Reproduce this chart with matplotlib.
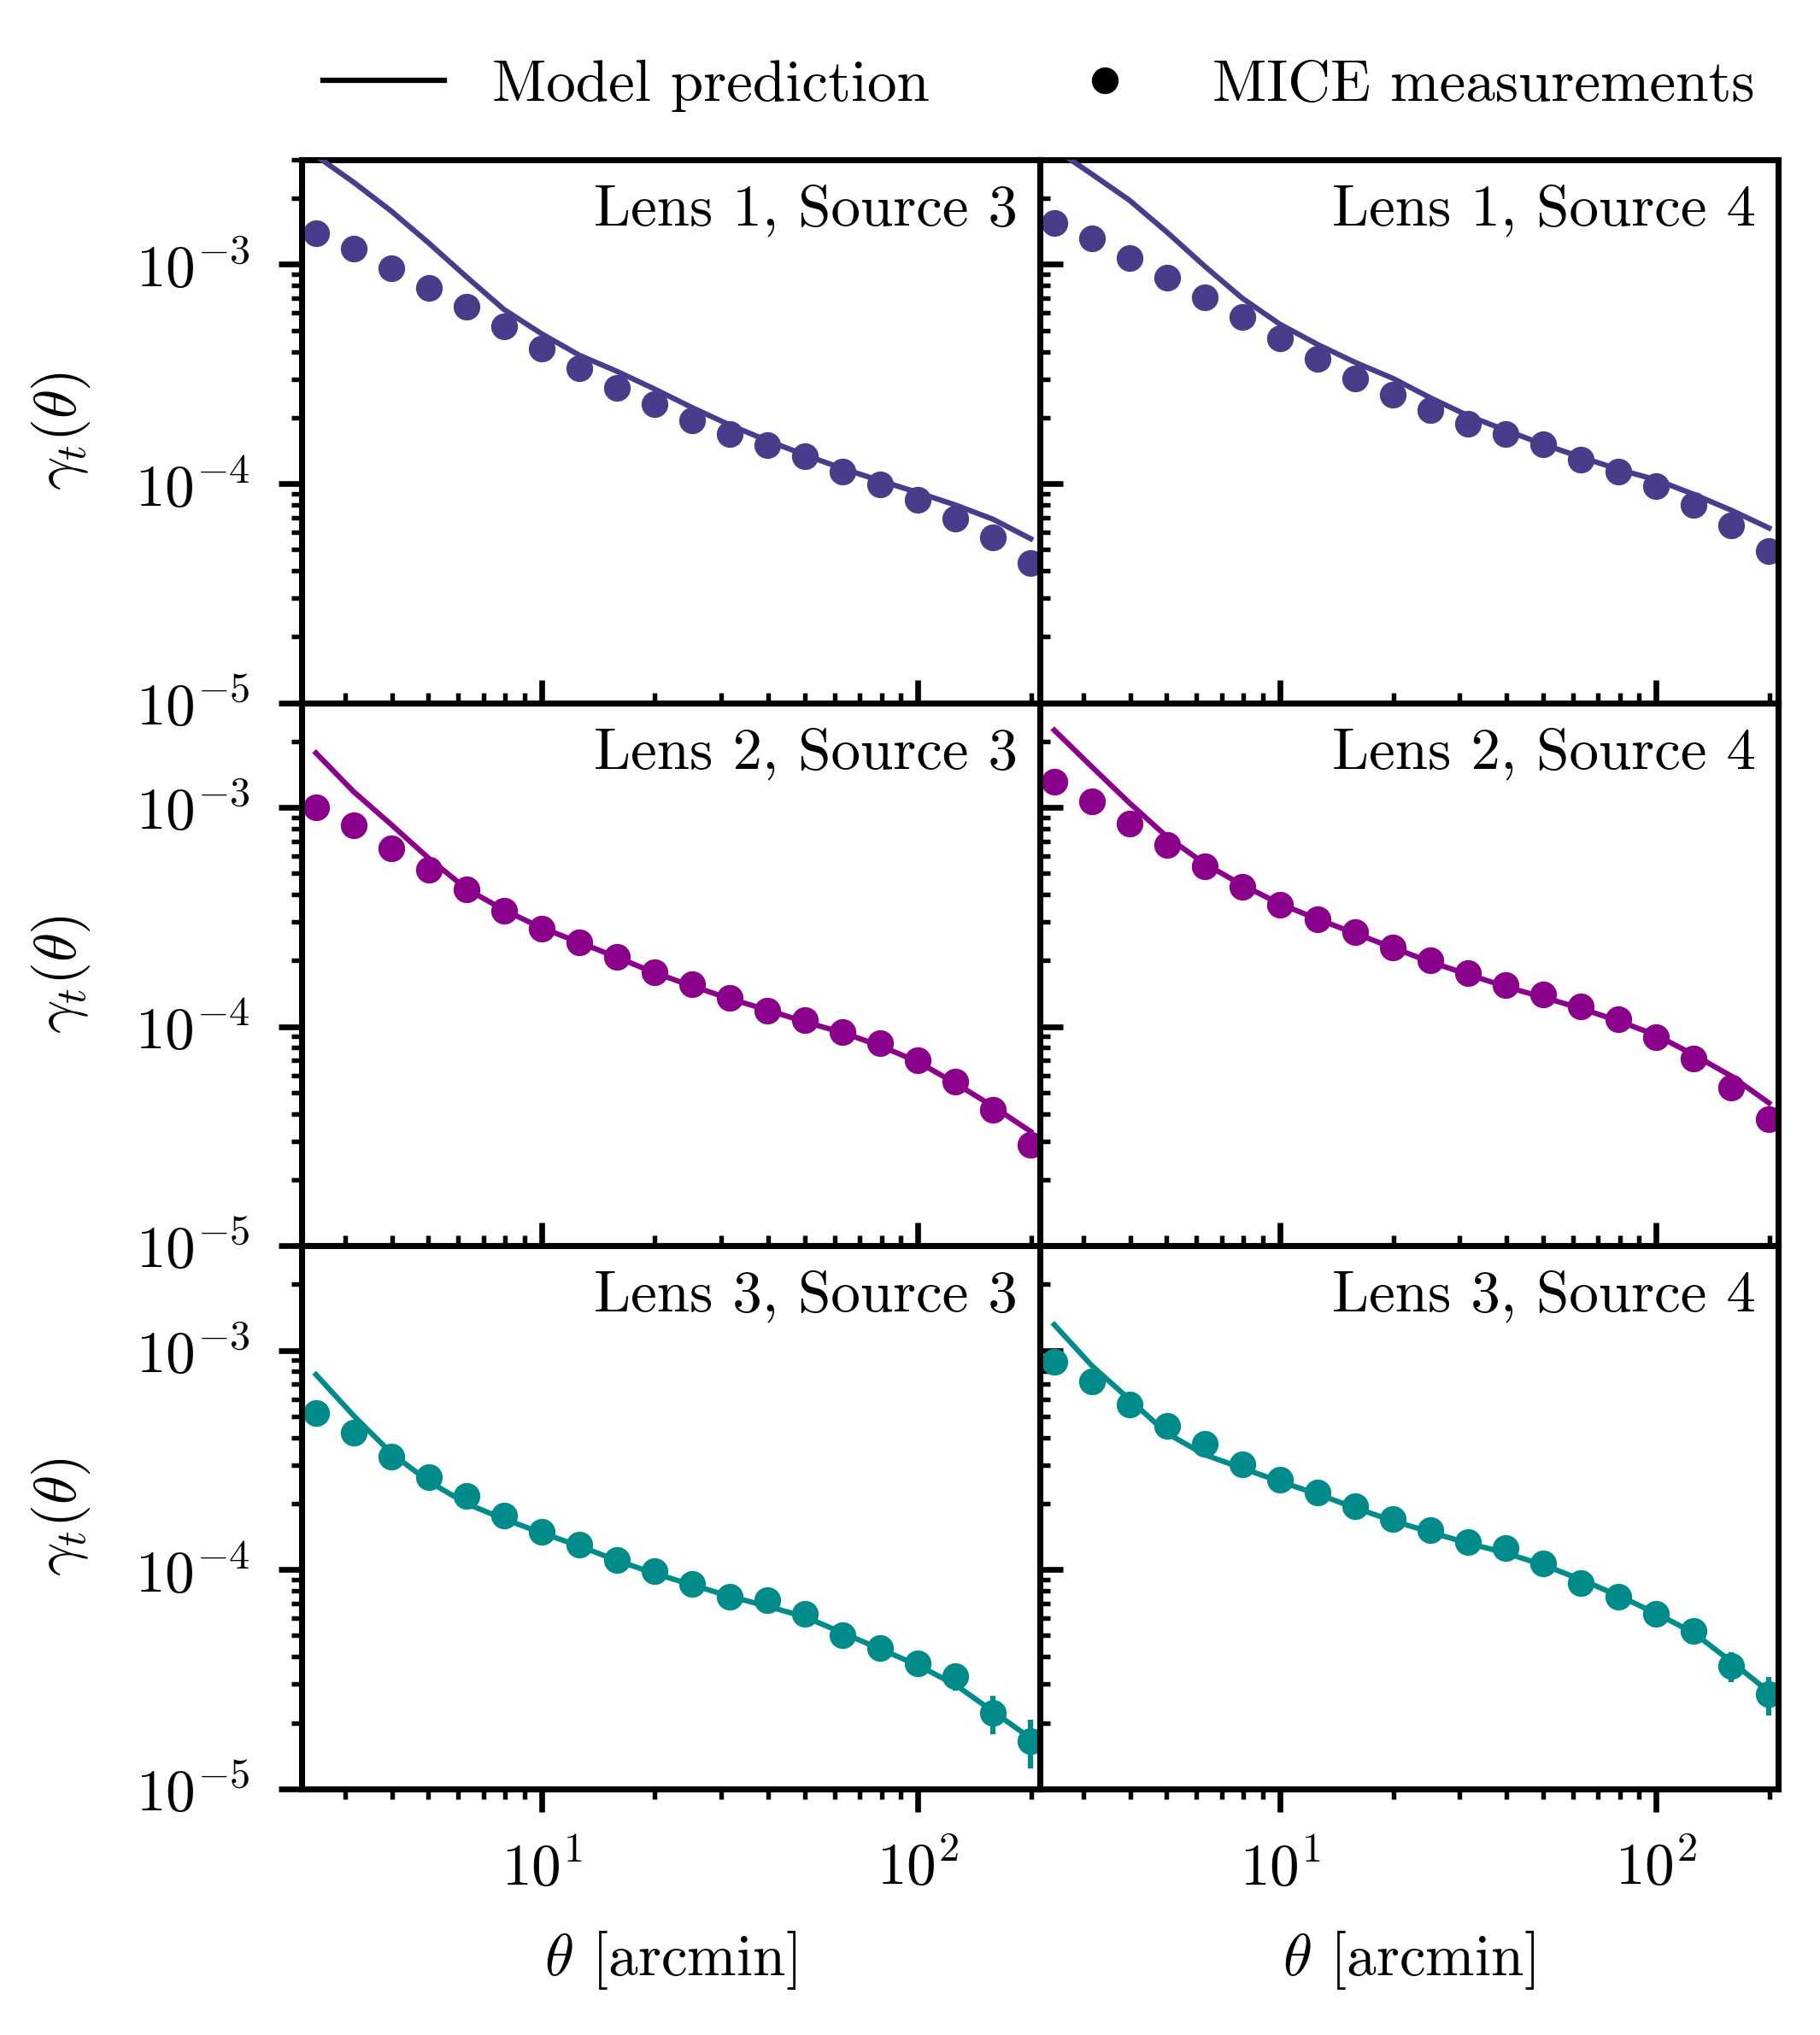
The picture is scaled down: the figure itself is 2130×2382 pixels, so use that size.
import matplotlib
matplotlib.use("Agg")
import matplotlib.pyplot as plt
from matplotlib.lines import Line2D

FS = 16.6
plt.rcParams['font.family'] = 'serif'
plt.rcParams['font.serif'] = ['cmr10']
plt.rcParams['mathtext.fontset'] = 'cm'
plt.rcParams['axes.formatter.use_mathtext'] = True
plt.rcParams['font.size'] = FS

# angular bins [arcmin]
theta = [2.512, 3.162, 3.981, 5.012, 6.310, 7.943, 10.0, 12.59, 15.85, 19.95,
         25.12, 31.62, 39.81, 50.12, 63.10, 79.43, 100.0, 125.9, 158.5, 199.5]

# MICE measurements
gt_l1s3 = [1.39e-3, 1.18e-3, 9.6e-4, 7.8e-4, 6.4e-4, 5.2e-4, 4.13e-4, 3.35e-4, 2.73e-4, 2.31e-4,
           1.94e-4, 1.68e-4, 1.50e-4, 1.33e-4, 1.13e-4, 9.9e-5, 8.45e-5, 6.93e-5, 5.70e-5, 4.36e-5]
gt_l1s4 = [1.55e-3, 1.31e-3, 1.066e-3, 8.73e-4, 7.08e-4, 5.74e-4, 4.59e-4, 3.72e-4, 3.02e-4, 2.54e-4,
           2.16e-4, 1.87e-4, 1.69e-4, 1.51e-4, 1.28e-4, 1.13e-4, 9.75e-5, 7.98e-5, 6.43e-5, 4.91e-5]
gt_l2s3 = [1.0e-3, 8.29e-4, 6.48e-4, 5.19e-4, 4.21e-4, 3.37e-4, 2.79e-4, 2.42e-4, 2.08e-4, 1.77e-4,
           1.56e-4, 1.35e-4, 1.18e-4, 1.07e-4, 9.48e-5, 8.41e-5, 7.03e-5, 5.61e-5, 4.16e-5, 2.9e-5]
gt_l2s4 = [1.31e-3, 1.066e-3, 8.45e-4, 6.72e-4, 5.38e-4, 4.36e-4, 3.59e-4, 3.10e-4, 2.69e-4, 2.30e-4,
           2.01e-4, 1.76e-4, 1.55e-4, 1.40e-4, 1.24e-4, 1.08e-4, 8.97e-5, 7.16e-5, 5.25e-5, 3.78e-5]
gt_l3s3 = [5.19e-4, 4.22e-4, 3.27e-4, 2.63e-4, 2.17e-4, 1.77e-4, 1.49e-4, 1.30e-4, 1.11e-4, 9.82e-5,
           8.61e-5, 7.52e-5, 7.27e-5, 6.31e-5, 5.00e-5, 4.37e-5, 3.73e-5, 3.27e-5, 2.21e-5, 1.65e-5]
gt_l3s4 = [8.84e-4, 7.19e-4, 5.64e-4, 4.54e-4, 3.73e-4, 3.02e-4, 2.57e-4, 2.24e-4, 1.94e-4, 1.70e-4,
           1.51e-4, 1.34e-4, 1.25e-4, 1.07e-4, 8.67e-5, 7.52e-5, 6.27e-5, 5.27e-5, 3.62e-5, 2.70e-5]

# measurement errors
err_l1s3 = [3.0e-5, 2.2e-5, 1.6e-5, 1.2e-5, 9e-6, 7e-6, 5.5e-6, 4.5e-6, 3.8e-6, 3.2e-6,
            2.8e-6, 2.5e-6, 2.3e-6, 2.2e-6, 2.1e-6, 2.0e-6, 2.0e-6, 2.0e-6, 2.0e-6, 2.0e-6]
err_l1s4 = [3.2e-5, 2.4e-5, 1.8e-5, 1.3e-5, 1.0e-5, 7.5e-6, 6e-6, 5e-6, 4e-6, 3.4e-6,
            3.0e-6, 2.7e-6, 2.5e-6, 2.4e-6, 2.3e-6, 2.2e-6, 2.2e-6, 2.2e-6, 2.2e-6, 2.2e-6]
err_l2s3 = [2.5e-5, 1.8e-5, 1.3e-5, 1.0e-5, 8e-6, 6e-6, 5e-6, 4e-6, 3.5e-6, 3.0e-6,
            2.7e-6, 2.5e-6, 2.3e-6, 2.2e-6, 2.2e-6, 2.2e-6, 2.3e-6, 2.4e-6, 2.5e-6, 2.5e-6]
err_l2s4 = [2.8e-5, 2.0e-5, 1.5e-5, 1.1e-5, 9e-6, 7e-6, 5.5e-6, 4.5e-6, 3.8e-6, 3.3e-6,
            3.0e-6, 2.8e-6, 2.6e-6, 2.5e-6, 2.5e-6, 2.5e-6, 2.6e-6, 2.8e-6, 3.0e-6, 3.0e-6]
err_l3s3 = [2.0e-5, 1.5e-5, 1.1e-5, 8e-6, 6e-6, 5e-6, 4e-6, 3.5e-6, 3.2e-6, 3.0e-6,
            2.9e-6, 2.9e-6, 3.0e-6, 3.1e-6, 3.3e-6, 3.5e-6, 3.8e-6, 4.6e-6, 4.4e-6, 4.1e-6]
err_l3s4 = [2.2e-5, 1.7e-5, 1.2e-5, 9e-6, 7e-6, 5.5e-6, 4.5e-6, 4e-6, 3.6e-6, 3.4e-6,
            3.3e-6, 3.3e-6, 3.4e-6, 3.6e-6, 3.9e-6, 4.2e-6, 4.6e-6, 5.0e-6, 5.6e-6, 5.4e-6]

# model predictions
model_l1s3 = [3.13e-3, 2.37e-3, 1.75e-3, 1.25e-3, 8.77e-4, 6.22e-4, 4.82e-4, 3.85e-4, 3.25e-4, 2.70e-4,
              2.22e-4, 1.85e-4, 1.57e-4, 1.35e-4, 1.17e-4, 1.03e-4, 9.1e-5, 7.98e-5, 6.87e-5, 5.6e-5]
model_l1s4 = [3.37e-3, 2.58e-3, 1.96e-3, 1.40e-3, 9.8e-4, 7.0e-4, 5.33e-4, 4.31e-4, 3.57e-4, 3.02e-4,
              2.46e-4, 2.04e-4, 1.75e-4, 1.51e-4, 1.32e-4, 1.16e-4, 1.04e-4, 8.93e-5, 7.55e-5, 6.27e-5]
model_l2s3 = [1.77e-3, 1.18e-3, 8.35e-4, 5.85e-4, 4.25e-4, 3.40e-4, 2.82e-4, 2.42e-4, 2.07e-4, 1.76e-4,
              1.53e-4, 1.34e-4, 1.19e-4, 1.05e-4, 9.38e-5, 8.17e-5, 6.90e-5, 5.51e-5, 4.32e-5, 3.32e-5]
model_l2s4 = [2.25e-3, 1.53e-3, 1.047e-3, 7.33e-4, 5.53e-4, 4.42e-4, 3.63e-4, 3.09e-4, 2.66e-4, 2.29e-4,
              1.97e-4, 1.73e-4, 1.52e-4, 1.36e-4, 1.21e-4, 1.06e-4, 9.14e-5, 7.43e-5, 5.94e-5, 4.48e-5]
model_l3s3 = [7.75e-4, 5.04e-4, 3.40e-4, 2.52e-4, 2.00e-4, 1.70e-4, 1.47e-4, 1.28e-4, 1.10e-4, 9.60e-5,
              8.51e-5, 7.55e-5, 6.80e-5, 6.08e-5, 5.14e-5, 4.34e-5, 3.66e-5, 2.98e-5, 2.25e-5, 1.70e-5]
model_l3s4 = [1.31e-3, 8.51e-4, 5.97e-4, 4.18e-4, 3.34e-4, 2.90e-4, 2.52e-4, 2.21e-4, 1.91e-4, 1.67e-4,
              1.48e-4, 1.32e-4, 1.19e-4, 1.05e-4, 9.0e-5, 7.6e-5, 6.31e-5, 5.14e-5, 3.80e-5, 2.77e-5]

panels = [
    [(gt_l1s3, err_l1s3, model_l1s3, "Lens 1, Source 3"), (gt_l1s4, err_l1s4, model_l1s4, "Lens 1, Source 4")],
    [(gt_l2s3, err_l2s3, model_l2s3, "Lens 2, Source 3"), (gt_l2s4, err_l2s4, model_l2s4, "Lens 2, Source 4")],
    [(gt_l3s3, err_l3s3, model_l3s3, "Lens 3, Source 3"), (gt_l3s4, err_l3s4, model_l3s4, "Lens 3, Source 4")],
]
row_colors = ['#483D8B', '#8B008B', '#008B8B']

fig, axes = plt.subplots(3, 2, figsize=(7.1, 7.94), dpi=300, sharex=True, sharey=True)
fig.subplots_adjust(left=0.1657, right=0.977, top=0.9215, bottom=0.121, hspace=0, wspace=0)

for i in range(3):
    for j in range(2):
        ax = axes[i, j]
        gt, err, model, title = panels[i][j]
        c = row_colors[i]
        ax.plot(theta, model, color=c, lw=1.5, zorder=3)
        ax.errorbar(theta, gt, yerr=err, fmt='o', color=c, ms=6.5,
                    elinewidth=1.5, capsize=0, zorder=2)
        ax.set_xscale('log')
        ax.set_yscale('log')
        ax.set_xlim(2.3, 211)
        ax.set_ylim(1e-5, 3e-3)
        ax.text(0.97, 0.955, title, transform=ax.transAxes, ha='right', va='top', fontsize=FS)
        for s in ax.spines.values():
            s.set_linewidth(1.7)
        # inner panels: ticks point into the panel above / to the right
        ax.tick_params(which='both', top=False, right=False)
        ax.tick_params(axis='x', which='both', direction='out' if i == 2 else 'in', pad=8)
        ax.tick_params(axis='y', which='both', direction='out' if j == 0 else 'in', pad=8)
        ax.tick_params(which='major', length=6.5, width=1.6, labelsize=FS)
        ax.tick_params(which='minor', length=2.8, width=1.3)
        if j == 0:
            ax.set_ylabel(r'$\gamma_t(\theta)$', fontsize=FS, labelpad=12)
        if i == 2:
            ax.set_xlabel(r'$\theta$ [arcmin]', fontsize=FS, labelpad=9)

handles = [Line2D([], [], color='k', lw=1.5),
           Line2D([], [], color='k', marker='o', ls='none', ms=6.5)]
fig.legend(handles, ['Model prediction', 'MICE measurements'], loc='center',
           bbox_to_anchor=(0.571, 0.958), ncol=2, frameon=False, fontsize=FS,
           handlelength=2.05, handletextpad=0.8, columnspacing=1.95)

fig.savefig('out.png', dpi=300)
